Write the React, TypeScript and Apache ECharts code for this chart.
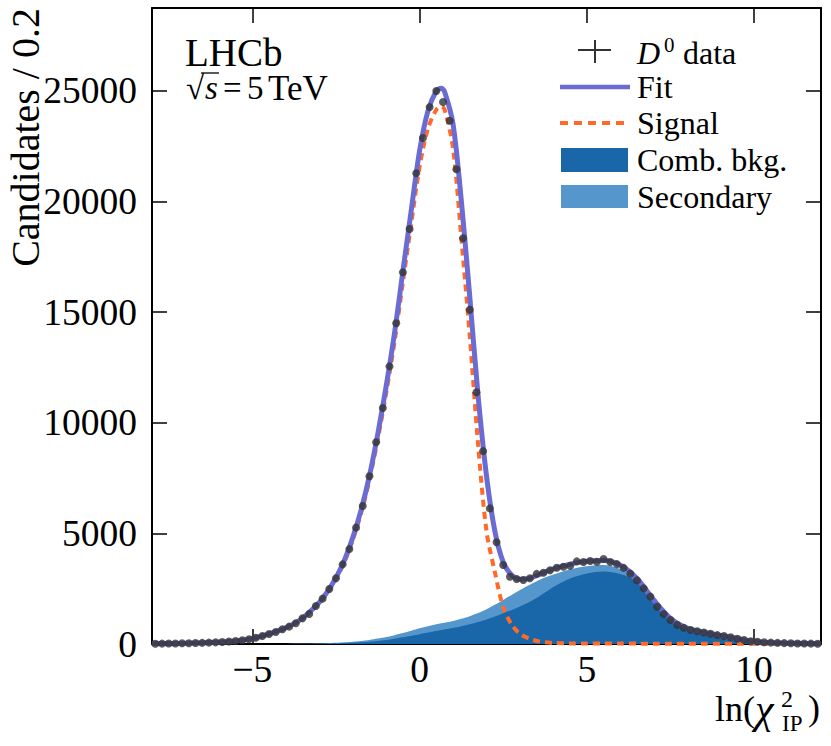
import React, { useEffect, useRef } from "react";
import * as echarts from "echarts";

// ---- data points (bin centres, 0.2 wide bins) ----
const dataX = [
  -7.9, -7.7, -7.5, -7.3, -7.1, -6.9, -6.7, -6.5, -6.3, -6.1,
  -5.9, -5.7, -5.5, -5.3, -5.1, -4.9, -4.7, -4.5, -4.3, -4.1,
  -3.9, -3.7, -3.5, -3.3, -3.1, -2.9, -2.7, -2.5, -2.3, -2.1,
  -1.9, -1.7, -1.5, -1.3, -1.1, -0.9, -0.7, -0.5, -0.3, -0.1,
  0.1, 0.3, 0.5, 0.7, 0.9, 1.1, 1.3, 1.5, 1.7, 1.9,
  2.1, 2.3, 2.5, 2.7, 2.9, 3.1, 3.3, 3.5, 3.7, 3.9,
  4.1, 4.3, 4.5, 4.7, 4.9, 5.1, 5.3, 5.5, 5.7, 5.9,
  6.1, 6.3, 6.5, 6.7, 6.9, 7.1, 7.3, 7.5, 7.7, 7.9,
  8.1, 8.3, 8.5, 8.7, 8.9, 9.1, 9.3, 9.5, 9.7, 9.9,
  10.1, 10.3, 10.5, 10.7, 10.9, 11.1, 11.3, 11.5, 11.7, 11.9,
];
const dataY = [
  14, 17, 21, 26, 31, 37, 44, 52, 62, 75,
  92, 112, 138, 172, 215, 282, 362, 452, 545, 663,
  785, 935, 1160, 1360, 1720, 2050, 2490, 2970, 3600, 4290,
  5260, 6240, 7580, 9120, 10670, 12550, 14500, 16800, 18760, 21280,
  22870, 24270, 25000, 24500, 23650, 21460, 18340, 15110, 11380, 8720,
  6130, 4600, 3570, 3040, 2940, 2890, 2970, 3170, 3220, 3330,
  3450, 3495, 3530, 3735, 3710, 3750, 3720, 3840, 3705, 3610,
  3440, 3180, 2875, 2515, 2140, 1680, 1350, 1085, 860, 730,
  630, 578, 520, 462, 400, 360, 305, 240, 180, 125,
  98, 78, 62, 50, 40, 32, 26, 20, 16, 12,
];

const modelX = [
  -8, -7.5, -7, -6.5, -6, -5.5, -5, -4.5, -4, -3.5,
  -3, -2.75, -2.5, -2.25, -2, -1.75, -1.5, -1.25, -1, -0.75,
  -0.5, -0.25, 0, 0.25, 0.5, 0.65, 0.75, 1, 1.25, 1.5,
  1.75, 2, 2.25, 2.5, 2.75, 3, 3.25, 3.5, 3.75, 4,
  4.5, 5, 5.5, 6, 6.5, 7, 7.5, 8, 8.5, 9,
  9.5, 10, 10.5, 11, 11.5, 12,
];
const fitY = [
  14, 22, 35, 53, 85, 140, 245, 455, 730, 1170,
  1880, 2380, 3000, 3780, 4800, 6050, 7600, 9500, 11650, 14050,
  16850, 19600, 22300, 24100, 25000, 25120, 24950, 23500, 20000, 15700,
  11200, 7600, 5100, 3700, 3120, 2930, 2950, 3090, 3250, 3400,
  3610, 3740, 3770, 3560, 2960, 1990, 1160, 720, 530, 385,
  245, 112, 64, 38, 22, 12,
];
const signalY = [
  14, 22, 35, 53, 85, 140, 245, 455, 728, 1160,
  1855, 2340, 2945, 3700, 4690, 5910, 7415, 9255, 11335, 13650,
  16350, 19000, 21580, 23300, 24150, 24300, 24150, 22400, 18300, 13900,
  9000, 5100, 3250, 1650, 880, 460, 260, 135, 75, 45,
  28, 22, 20, 18, 17, 16, 15, 14, 13, 12,
  11, 10, 9, 8, 7, 6,
];
const combY = [
  0, 0, 0, 0, 0, 0, 0, 0, 2, 6,
  15, 22, 32, 45, 60, 80, 105, 140, 185, 240,
  300, 370, 445, 520, 590, 630, 655, 720, 800, 890,
  990, 1110, 1240, 1390, 1540, 1700, 1880, 2080, 2330, 2580,
  2960, 3190, 3280, 3160, 2820, 1960, 1140, 705, 515, 375,
  238, 108, 60, 35, 20, 11,
];
const secondaryY = [
  0, 0, 0, 0, 0, 0, 0, 0, 0, 4,
  10, 15, 22, 32, 45, 60, 80, 105, 130, 160,
  195, 230, 265, 285, 300, 305, 310, 325, 345, 370,
  410, 460, 530, 600, 680, 740, 770, 760, 680, 560,
  420, 330, 290, 230, 110, 30, 10, 4, 0, 0,
  0, 0, 0, 0, 0, 0,
];

const xTicks = [-5, 0, 5, 10];
const yTicks = [0, 5000, 10000, 15000, 20000, 25000];

const FONT = "'Liberation Serif', 'Times New Roman', Times, serif";
const C_FIT = "#6b6bd4";
const C_SIG = "#ff6a2b";
const C_COMB = "#1967a8";
const C_SEC = "#5597cc";
const C_DATA = "#333333";

export default function App() {
  const ref = useRef<HTMLDivElement>(null);

  useEffect(() => {
    document.body.style.margin = "0";
    const chart = echarts.init(ref.current as HTMLDivElement, null, { renderer: "svg" });

    const pairs = (ys: number[]) => modelX.map((x, i) => [x, ys[i]]);
    const totalBkg = modelX.map((x, i) => [x, combY[i] + secondaryY[i]]);
    const points = dataX.map((x, i) => [x, dataY[i]]);

    const axisLine = { show: true, onZero: false, lineStyle: { color: "#000", width: 2 } };
    const tickStyle = { color: "#000", width: 1.5 };

    const mkX = (pos: string, labels: boolean) => ({
      type: "value",
      min: -8,
      max: 12,
      position: pos,
      axisLine,
      axisTick: { show: true, inside: true, length: 15, customValues: xTicks, lineStyle: tickStyle },
      axisLabel: labels
        ? {
            show: true,
            customValues: xTicks,
            formatter: (v: number) => (v < 0 ? "\u2212" + Math.abs(v) : String(v)),
            fontFamily: FONT,
            fontSize: 37.5,
            color: "#000",
            margin: 6,
          }
        : { show: false },
      splitLine: { show: false },
      minorTick: { show: false },
    });
    const mkY = (pos: string, labels: boolean) => ({
      type: "value",
      min: 0,
      max: 28750,
      position: pos,
      axisLine,
      axisTick: { show: true, inside: true, length: 15, customValues: yTicks, lineStyle: tickStyle },
      axisLabel: labels
        ? {
            show: true,
            customValues: yTicks,
            formatter: (v: number) => String(v),
            fontFamily: FONT,
            fontSize: 37.5,
            color: "#000",
            margin: 15,
          }
        : { show: false },
      splitLine: { show: false },
      minorTick: { show: false },
    });

    const txt = (x: number, y: number, text: string, size: number, extra: any = {}) => ({
      type: "text",
      x,
      y,
      z: 100,
      style: {
        text,
        fontFamily: FONT,
        fontSize: size,
        fill: "#000",
        align: "left",
        verticalAlign: "middle",
        ...extra,
      },
    });

    const option: any = {
      animation: false,
      backgroundColor: "#fff",
      grid: { left: 152, right: 10, top: 8, bottom: 102, containLabel: false },
      xAxis: [mkX("bottom", true), mkX("top", false)],
      yAxis: [mkY("left", true), mkY("right", false)],
      series: [
        {
          name: "Secondary",
          type: "line",
          data: totalBkg,
          smooth: 0.3,
          symbol: "none",
          lineStyle: { width: 0, opacity: 0 },
          areaStyle: { color: C_SEC, opacity: 1 },
          z: 1,
          silent: true,
        },
        {
          name: "Comb. bkg.",
          type: "line",
          data: pairs(combY),
          smooth: 0.3,
          symbol: "none",
          lineStyle: { width: 0, opacity: 0 },
          areaStyle: { color: C_COMB, opacity: 1 },
          z: 2,
          silent: true,
        },
        {
          name: "Signal",
          type: "line",
          data: pairs(signalY),
          smooth: 0.3,
          symbol: "none",
          lineStyle: { color: C_SIG, width: 4, type: [7, 5] },
          z: 3,
          silent: true,
        },
        {
          name: "Fit",
          type: "line",
          data: pairs(fitY),
          smooth: 0.3,
          symbol: "none",
          lineStyle: { color: C_FIT, width: 5 },
          z: 4,
          silent: true,
        },
        {
          name: "D0 data",
          type: "scatter",
          data: points,
          symbol: "circle",
          symbolSize: 8,
          itemStyle: { color: C_DATA },
          z: 5,
          silent: true,
        },
      ],
      graphic: [
        // y-axis title
        {
          type: "text",
          x: 25,
          y: 8,
          rotation: Math.PI / 2,
          style: {
            text: "Candidates / 0.2",
            fontFamily: FONT,
            fontSize: 40,
            fill: "#000",
            align: "right",
            verticalAlign: "middle",
          },
        },
        // x-axis title ln(chi^2_IP)
        {
          type: "text",
          x: 715,
          y: 709,
          z: 100,
          style: {
            text: "{a|ln(}{b|\u03c7}",
            fontFamily: FONT,
            fill: "#000",
            align: "left",
            verticalAlign: "middle",
            rich: {
              a: { fontFamily: FONT, fontSize: 36, fill: "#000" },
              b: { fontFamily: FONT, fontSize: 42, fontStyle: "italic", fill: "#000" },
            },
          },
        },
        txt(781, 699, "2", 24),
        txt(782, 723, "IP", 23),
        txt(808, 708, ")", 36),
        // LHCb label
        txt(185, 52, "LHCb", 39),
        txt(186, 88, "\u221a", 33),
        txt(205, 88, "s", 33, { fontStyle: "italic" }),
        {
          type: "line",
          shape: { x1: 201, y1: 73, x2: 219, y2: 73 },
          style: { stroke: "#000", lineWidth: 1.3 },
        },
        txt(223, 88, "=", 33),
        txt(247, 88, "5", 33),
        txt(268, 88, "TeV", 35),
        // legend: data
        {
          type: "line",
          shape: { x1: 578, y1: 50, x2: 611, y2: 50 },
          style: { stroke: C_DATA, lineWidth: 2 },
        },
        {
          type: "line",
          shape: { x1: 595, y1: 40, x2: 595, y2: 63 },
          style: { stroke: C_DATA, lineWidth: 2 },
        },
        txt(637, 53, "D", 32, { fontStyle: "italic" }),
        txt(664, 45, "0", 21),
        txt(683, 53, "data", 32),
        // legend: fit
        {
          type: "line",
          shape: { x1: 560, y1: 87, x2: 630, y2: 87 },
          style: { stroke: C_FIT, lineWidth: 4.5 },
        },
        txt(637, 87, "Fit", 32),
        // legend: signal
        {
          type: "line",
          shape: { x1: 560, y1: 123, x2: 630, y2: 123 },
          style: { stroke: C_SIG, lineWidth: 4, lineDash: [8, 6] },
        },
        txt(637, 123, "Signal", 32),
        // legend: comb
        {
          type: "rect",
          shape: { x: 561, y: 148, width: 67, height: 24 },
          style: { fill: C_COMB },
        },
        txt(637, 160, "Comb. bkg.", 32),
        // legend: secondary
        {
          type: "rect",
          shape: { x: 561, y: 185, width: 67, height: 23 },
          style: { fill: C_SEC },
        },
        txt(637, 197, "Secondary", 32),
      ],
    };

    chart.setOption(option);
    return () => chart.dispose();
  }, []);

  return <div ref={ref} style={{ width: 831, height: 746 }} />;
}
